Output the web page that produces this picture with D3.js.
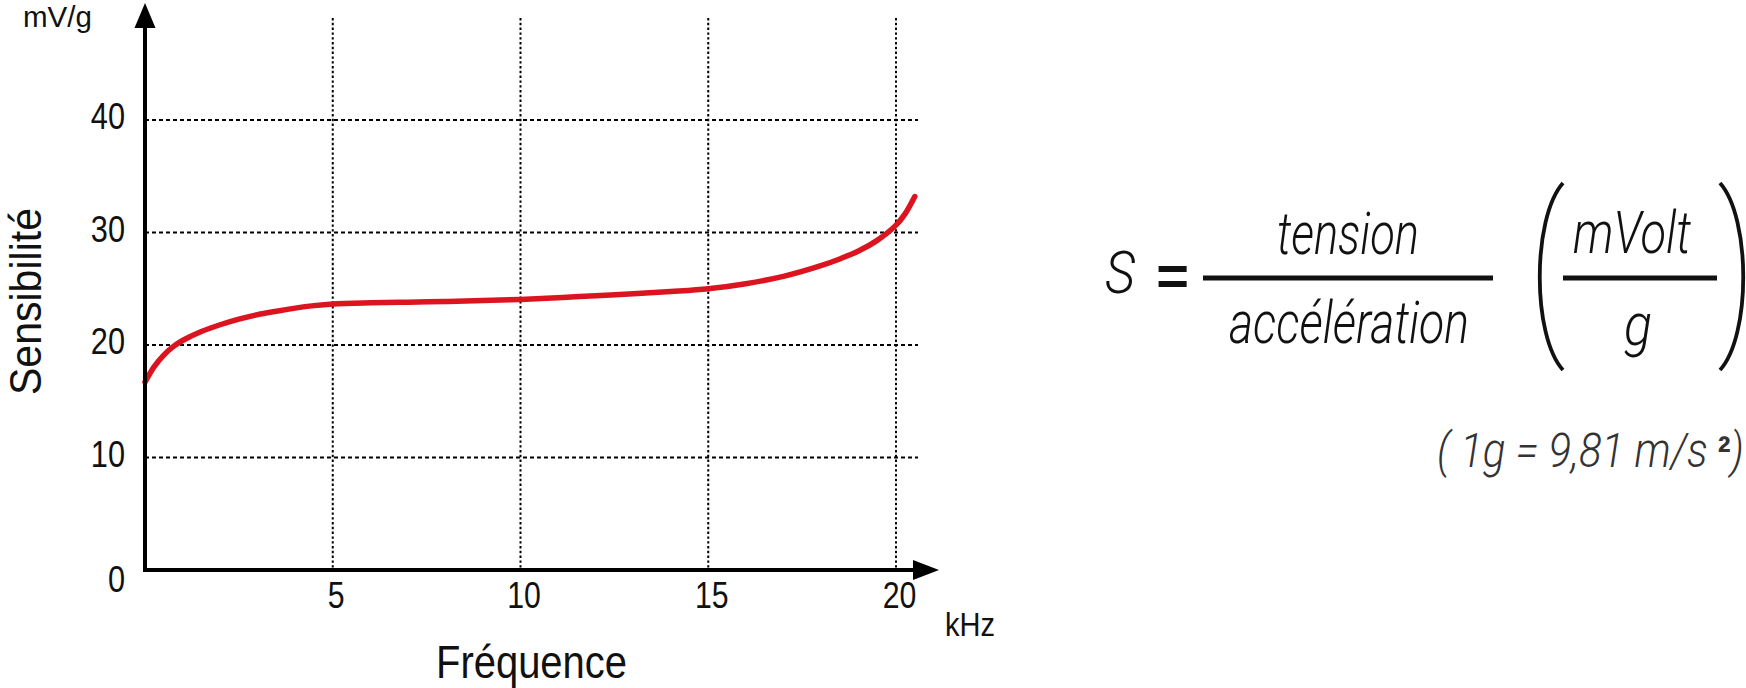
<!DOCTYPE html>
<html>
<head>
<meta charset="utf-8">
<script src="https://cdn.jsdelivr.net/npm/d3@7"></script>
<style>
  html, body { margin: 0; padding: 0; background: #fff; }
  svg { display: block; }
</style>
</head>
<body>
<svg id="chart" width="1746" height="688"></svg>
<script>
// ---- data ----
const freqKHz = [0, 0.25, 0.5, 0.75, 1, 1.5, 2, 2.5, 3, 3.5, 4, 4.5, 5, 6, 7, 8, 9, 10, 11, 12, 13, 14, 15, 16, 17, 18, 18.5, 19, 19.5, 20, 20.25, 20.5];
const sensitivity = [16.7, 18.1, 19.1, 19.85, 20.4, 21.2, 21.8, 22.3, 22.7, 23.0, 23.28, 23.5, 23.65, 23.75, 23.8, 23.87, 23.95, 24.05, 24.2, 24.38, 24.55, 24.75, 25.0, 25.45, 26.1, 27.05, 27.65, 28.35, 29.3, 30.65, 31.7, 33.2];
const xTicks = [5, 10, 15, 20];
const yTicks = [0, 10, 20, 30, 40];
const yGrid = [10, 20, 30, 40];
const xLabel = "Fréquence";
const xUnit = "kHz";
const yLabel = "Sensibilité";
const yUnit = "mV/g";

const svg = d3.select("#chart");
const x = d3.scaleLinear().domain([0, 20]).range([145, 896]);
const y = d3.scaleLinear().domain([0, 40]).range([570, 120]);

const LABEL_FONT = "'Liberation Sans Narrow', 'Liberation Sans', Arial, sans-serif";
const MATH_FONT = "Roboto, 'Open Sans', 'Liberation Sans', sans-serif";

function fitWidth(sel, factor) {
  sel.each(function () {
    const w = this.getComputedTextLength();
    d3.select(this).attr("textLength", w * factor).attr("lengthAdjust", "spacingAndGlyphs");
  });
}
function setWidth(sel, w) {
  sel.attr("textLength", w).attr("lengthAdjust", "spacingAndGlyphs");
}

// ---- grid ----
const grid = svg.append("g").attr("stroke", "#000").attr("stroke-width", 2).attr("fill", "none");
grid.selectAll("line.h").data(yGrid).join("line").attr("class", "h")
  .attr("x1", x(0)).attr("x2", x.range()[1] + 22)
  .attr("y1", d => y(d)).attr("y2", d => y(d))
  .attr("stroke-dasharray", "4,3");
grid.selectAll("line.v").data(xTicks).join("line").attr("class", "v")
  .attr("x1", d => x(d)).attr("x2", d => x(d))
  .attr("y1", 18).attr("y2", y(0))
  .attr("stroke-dasharray", "2.4,2.4");

// ---- curve ----
const pts = freqKHz.map((f, i) => [f, sensitivity[i]]);
svg.append("path").datum(pts)
  .attr("d", d3.line().x(d => x(d[0])).y(d => y(d[1])).curve(d3.curveCatmullRom.alpha(0.5)))
  .attr("fill", "none").attr("stroke", "#dc1420").attr("stroke-width", 5.5).attr("stroke-linecap", "round");

// ---- axes lines with arrows ----
const ax = svg.append("g");
ax.append("line").attr("x1", x(0) - 2).attr("x2", x(20) + 18).attr("y1", y(0)).attr("y2", y(0))
  .attr("stroke", "#000").attr("stroke-width", 4);
ax.append("path").attr("d", `M${x(20) + 17},${y(0) - 10}L${x(20) + 43},${y(0)}L${x(20) + 17},${y(0) + 10}Z`).attr("fill", "#000");
ax.append("line").attr("x1", x(0)).attr("x2", x(0)).attr("y1", y(0) + 2).attr("y2", 26)
  .attr("stroke", "#000").attr("stroke-width", 4);
ax.append("path").attr("d", `M${x(0) - 10.5},28L${x(0)},3L${x(0) + 10.5},28Z`).attr("fill", "#000");

// ---- tick labels via d3 axes ----
const yAxis = svg.append("g").attr("transform", `translate(${x(0)},-3)`)
  .call(d3.axisLeft(y).tickValues(yTicks).tickSize(0).tickPadding(20).tickFormat(d3.format("d")));
yAxis.select(".domain").remove();
yAxis.selectAll("text").attr("font-family", LABEL_FONT).attr("font-size", 37).attr("fill", "#111")
  .filter(d => d === 0).attr("y", 13);
fitWidth(yAxis.selectAll("text"), 0.83);

const xAxis = svg.append("g").attr("transform", `translate(3,${y(0)})`)
  .call(d3.axisBottom(x).tickValues(xTicks).tickSize(0).tickPadding(12).tickFormat(d3.format("d")));
xAxis.select(".domain").remove();
xAxis.selectAll("text").attr("font-family", LABEL_FONT).attr("font-size", 36).attr("fill", "#111");
fitWidth(xAxis.selectAll("text"), 0.84);

// ---- axis titles ----
setWidth(svg.append("text").attr("x", 23).attr("y", 27).attr("font-family", LABEL_FONT).attr("font-size", 30)
  .attr("fill", "#111").text(yUnit), 69);
setWidth(svg.append("text").attr("transform", "translate(41,395) rotate(-90)").attr("font-family", LABEL_FONT)
  .attr("font-size", 45).attr("fill", "#111").text(yLabel), 187);
setWidth(svg.append("text").attr("x", 436).attr("y", 678).attr("font-family", LABEL_FONT).attr("font-size", 46)
  .attr("fill", "#111").text(xLabel), 191);
setWidth(svg.append("text").attr("x", 945).attr("y", 636).attr("font-family", LABEL_FONT).attr("font-size", 33)
  .attr("fill", "#111").text(xUnit), 50);

// ---- formula ----
const fm = svg.append("g").attr("fill", "#111");
function mtext(t, xx, yy, w, size) {
  const s = fm.append("text").attr("x", xx).attr("y", yy).attr("font-family", MATH_FONT)
    .attr("font-style", "italic").attr("font-weight", 300).attr("font-size", size || 59).text(t);
  if (w) setWidth(s, w);
  return s;
}
mtext("S", 1105, 293, 30, 60);
fm.append("text").attr("x", 1172.5).attr("y", 295).attr("text-anchor", "middle")
  .attr("font-family", "'Liberation Sans', Arial, sans-serif").attr("font-weight", "bold").attr("font-size", 56).text("=");
fm.append("line").attr("x1", 1203).attr("x2", 1493).attr("y1", 278).attr("y2", 278).attr("stroke", "#111").attr("stroke-width", 5);
mtext("tension", 1277, 254, 142);
mtext("accélération", 1229, 343, 240);
fm.append("path").attr("d", "M1563,183C1532,218 1532,336 1563,370").attr("fill", "none").attr("stroke", "#111").attr("stroke-width", 3.8);
fm.append("path").attr("d", "M1720,183C1751,218 1751,336 1720,370").attr("fill", "none").attr("stroke", "#111").attr("stroke-width", 3.8);
mtext("mVolt", 1573, 253, 118);
fm.append("line").attr("x1", 1563).attr("x2", 1717).attr("y1", 278).attr("y2", 278).attr("stroke", "#111").attr("stroke-width", 5);
mtext("g", 1624, 345, 28);

// ---- note (one text, condensed to the reference width) ----
const noteG = svg.append("g");
const note = noteG.append("text").attr("x", 0).attr("y", 0).attr("fill", "#333")
  .attr("font-family", MATH_FONT).attr("font-style", "italic").attr("font-weight", 300).attr("font-size", 48);
note.append("tspan").text("( 1g = 9,81 m/s ");
note.append("tspan").attr("font-family", "'Liberation Sans', Arial, sans-serif").attr("font-style", "normal")
  .attr("font-weight", "bold").attr("font-size", 44).text("²");
note.append("tspan").text(")");
const nb = note.node().getBBox();
const noteLeft = 1437, noteRight = 1744;
const sx = (noteRight - noteLeft) / nb.width;
noteG.attr("transform", `translate(${noteLeft - nb.x * sx},467) scale(${sx},1)`);
</script>
</body>
</html>
